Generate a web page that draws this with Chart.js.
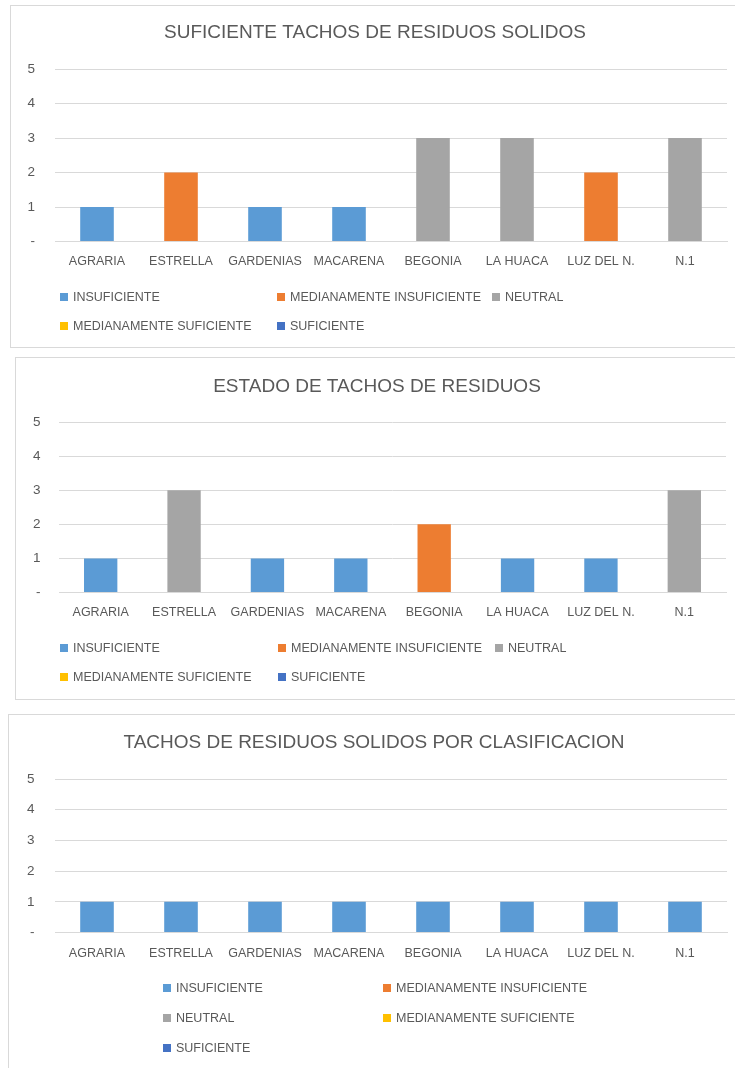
<!DOCTYPE html>
<html>
<head>
<meta charset="utf-8">
<script src="https://cdn.jsdelivr.net/npm/chart.js@4.4.0/dist/chart.umd.min.js"></script>
<style>
body { margin: 0; width: 735px; height: 1068px; overflow: hidden; background: #fff; position: relative; font-family: "Liberation Sans", Arial, sans-serif; }
.box { position: absolute; border: 1px solid #d9d9d9; box-sizing: border-box; }
canvas { position: absolute; }
.leg { position: absolute; font-size: 12.5px; color: #595959; white-space: nowrap; line-height: 16px; }
.leg span.sq { display: inline-block; width: 8px; height: 8px; margin-right: 5px; vertical-align: 0px; }
</style>
</head>
<body>

<div class="box" style="left:10px;top:5px;width:740px;height:343px;"></div>
<div class="box" style="left:15px;top:357px;width:740px;height:343px;"></div>
<div class="box" style="left:8px;top:714px;width:740px;height:400px;"></div>

<canvas id="chart1" width="724" height="341" style="left:11px;top:6px;"></canvas>
<canvas id="chart2" width="719" height="341" style="left:16px;top:358px;"></canvas>
<canvas id="chart3" width="726" height="353" style="left:9px;top:715px;"></canvas>

<script>
var categories = ['AGRARIA', 'ESTRELLA', 'GARDENIAS', 'MACARENA', 'BEGONIA', 'LA HUACA', 'LUZ DEL N.', 'N.1'];
var seriesNames = ['INSUFICIENTE', 'MEDIANAMENTE INSUFICIENTE', 'NEUTRAL', 'MEDIANAMENTE SUFICIENTE', 'SUFICIENTE'];
var seriesColors = ['#5b9bd5', '#ed7d31', '#a5a5a5', '#ffc000', '#4472c4'];
var yTickLabels = ['-', '1', '2', '3', '4', '5'];

// chart 1: SUFICIENTE TACHOS DE RESIDUOS SOLIDOS
var c1Insuficiente = [1, 0, 1, 1, 0, 0, 0, 0];
var c1MedInsuficiente = [0, 2, 0, 0, 0, 0, 2, 0];
var c1Neutral = [0, 0, 0, 0, 3, 3, 0, 3];
var c1MedSuficiente = [0, 0, 0, 0, 0, 0, 0, 0];
var c1Suficiente = [0, 0, 0, 0, 0, 0, 0, 0];

// chart 2: ESTADO DE TACHOS DE RESIDUOS
var c2Insuficiente = [1, 0, 1, 1, 0, 1, 1, 0];
var c2MedInsuficiente = [0, 0, 0, 0, 2, 0, 0, 0];
var c2Neutral = [0, 3, 0, 0, 0, 0, 0, 3];
var c2MedSuficiente = [0, 0, 0, 0, 0, 0, 0, 0];
var c2Suficiente = [0, 0, 0, 0, 0, 0, 0, 0];

// chart 3: TACHOS DE RESIDUOS SOLIDOS POR CLASIFICACION
var c3Insuficiente = [1, 1, 1, 1, 1, 1, 1, 1];
var c3MedInsuficiente = [0, 0, 0, 0, 0, 0, 0, 0];
var c3Neutral = [0, 0, 0, 0, 0, 0, 0, 0];
var c3MedSuficiente = [0, 0, 0, 0, 0, 0, 0, 0];
var c3Suficiente = [0, 0, 0, 0, 0, 0, 0, 0];

var textColor = '#595959';
var gridColor = '#d9d9d9';
var fontFamily = '"Liberation Sans", Arial, sans-serif';

function buildDatasets(series)
{
    var sets = [];
    for (var i = 0; i < series.length; i++) {
        sets.push({
            label: seriesNames[i],
            data: series[i],
            backgroundColor: seriesColors[i],
            borderWidth: 0,
            categoryPercentage: 1.0,
            barPercentage: 0.4
        });
    }
    return sets;
}

function renderLegend(chart, lay)
{
    var items = chart.options.plugins.legend.labels.generateLabels(chart);
    for (var i = 0; i < items.length; i++) {
        var it = items[i];
        var div = document.createElement('div');
        div.className = 'leg';
        div.style.left = lay.cols[i % lay.perRow] + 'px';
        div.style.top = (lay.rows[Math.floor(i / lay.perRow)] - 8) + 'px';
        div.innerHTML = '<span class="sq" style="background:' + it.fillStyle + '"></span>' + it.text;
        document.body.appendChild(div);
    }
}

function renderBarChart(id, title, series, lay)
{
    var ctx = document.getElementById(id).getContext('2d');
    var chart = new Chart(ctx, {
        type: 'bar',
        data: { labels: categories, datasets: buildDatasets(series) },
        options: {
            responsive: false,
            animation: false,
            devicePixelRatio: 1,
            layout: { padding: { left: lay.padLeft, right: lay.padRight, top: 0, bottom: lay.padBottom } },
            plugins: {
                legend: { display: false },
                tooltip: { enabled: false },
                title: {
                    display: true,
                    text: title,
                    color: textColor,
                    font: { family: fontFamily, size: 19, weight: 'normal', lineHeight: 1.2 },
                    padding: { top: lay.titleTop, bottom: lay.titleBottom }
                }
            },
            scales: {
                x: {
                    stacked: true,
                    grid: { display: false, drawTicks: false },
                    border: { display: true, color: gridColor, width: 1 },
                    ticks: { color: textColor, padding: lay.xPad, maxRotation: 0, autoSkip: false,
                             font: { family: fontFamily, size: 12.5, lineHeight: 1.2 } }
                },
                y: {
                    stacked: true,
                    min: 0,
                    max: 5,
                    afterFit: function(scale) { scale.width = lay.yWidth; },
                    grid: { color: gridColor, lineWidth: 1, drawTicks: false },
                    border: { display: false },
                    ticks: {
                        stepSize: 1,
                        color: textColor,
                        padding: lay.yPad,
                        font: { family: fontFamily, size: 13.5 },
                        callback: function(v) { return yTickLabels[v]; }
                    }
                }
            }
        }
    });
    renderLegend(chart, lay);
}

renderBarChart('chart1', 'SUFICIENTE TACHOS DE RESIDUOS SOLIDOS',
    [c1Insuficiente, c1MedInsuficiente, c1Neutral, c1MedSuficiente, c1Suficiente],
    { padLeft: 12, padRight: 8, padBottom: 64.5, titleTop: 15.6, titleBottom: 24.6, xPad: 13, yWidth: 32, yPad: 20,
      cols: [60, 277, 492], rows: [297, 326], perRow: 3 });

renderBarChart('chart2', 'ESTADO DE TACHOS DE RESIDUOS',
    [c2Insuficiente, c2MedInsuficiente, c2Neutral, c2MedSuficiente, c2Suficiente],
    { padLeft: 12, padRight: 9, padBottom: 65.5, titleTop: 17.6, titleBottom: 23.6, xPad: 13, yWidth: 31, yPad: 18.5,
      cols: [60, 278, 495], rows: [648, 677], perRow: 3 });

renderBarChart('chart3', 'TACHOS DE RESIDUOS SOLIDOS POR CLASIFICACION',
    [c3Insuficiente, c3MedInsuficiente, c3Neutral, c3MedSuficiente, c3Suficiente],
    { padLeft: 12, padRight: 8, padBottom: 93.5, titleTop: 16.6, titleBottom: 24.6, xPad: 13.5, yWidth: 34, yPad: 20.5,
      cols: [163, 383], rows: [988, 1018, 1048], perRow: 2 });
</script>
</body>
</html>
